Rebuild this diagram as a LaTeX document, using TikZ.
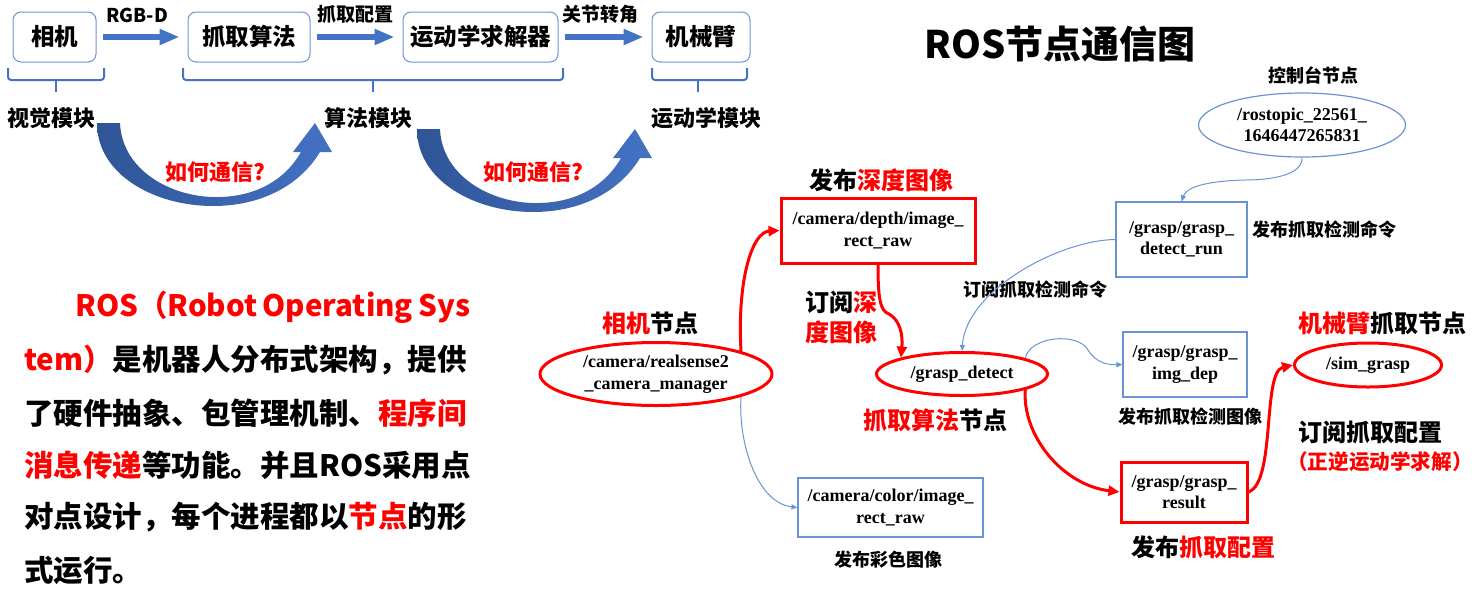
\documentclass[tikz,border=0pt]{standalone}
\usepackage{fontspec}
\setmainfont{Noto Sans CJK SC}
\newfontfamily\topicfont{Liberation Serif}
\usetikzlibrary{positioning,arrows.meta,shapes.geometric}

\definecolor{flowblue}{HTML}{4472C4}
\definecolor{flowdark}{HTML}{2F5597}
\definecolor{edgeblue}{HTML}{6A93D4}
\definecolor{rosred}{HTML}{FF0000}

\newcommand\pxfont[1]{\fontsize{#1}{#1}\selectfont\bfseries}

\begin{document}
\begin{tikzpicture}[x=1pt,y=-1pt,
    flowbox/.style={rectangle,rounded corners=8pt,draw=edgeblue,line width=1pt,minimum height=50pt,inner sep=0pt,font=\pxfont{23.5}},
    flowarrow/.style={flowblue,line width=6pt,-{Triangle[length=20pt,width=15pt]},shorten <=6pt,shorten >=8pt},
    bracket/.style={flowblue,line width=2pt,rounded corners=3pt},
    modlabel/.style={inner sep=0pt,font=\pxfont{22}},
    msglabel/.style={inner sep=0pt,font=\pxfont{19}},
    asklabel/.style={inner sep=0pt,font=\pxfont{22},text=rosred},
    bodyline/.style={anchor=west,inner sep=0pt,font=\pxfont{29.5}},
    topicbox/.style={rectangle,draw=edgeblue,line width=1.2pt,inner sep=0pt,align=center,font=\topicfont\fontsize{18}{21.5}\selectfont\bfseries},
    hotbox/.style={topicbox,draw=rosred,line width=3pt},
    rosnode/.style={ellipse,draw=edgeblue,line width=1.2pt,inner sep=0pt,align=center,font=\topicfont\fontsize{18}{21.5}\selectfont\bfseries},
    hotnode/.style={rosnode,draw=rosred,line width=3pt},
    bignote/.style={inner sep=0pt,font=\pxfont{24}},
    smallnote/.style={inner sep=0pt,font=\pxfont{18}},
    pubedge/.style={edgeblue,line width=1pt,-{Triangle[length=6pt,width=5pt]}},
    hotedge/.style={rosred,line width=3pt,-{Triangle[length=11pt,width=10pt]}}]

\useasboundingbox (0,0) rectangle (1477,603);

% module pipeline
\node[flowbox,minimum width=83pt] (camera) at (54.5,37) {相机};
\node[flowbox,minimum width=122pt] (grasp) at (249,37) {抓取算法};
\node[flowbox,minimum width=155pt] (solver) at (480.5,37) {运动学求解器};
\node[flowbox,minimum width=98pt] (arm) at (701,37) {机械臂};

\draw[flowarrow] (camera) -- (grasp);
\draw[flowarrow] (grasp) -- (solver);
\draw[flowarrow] (solver) -- (arm);

\node[msglabel] (rgbd) at (137,15) {RGB-D};
\node[msglabel] (pose) at (355,14) {抓取配置};
\node[msglabel] (joint) at (600,14) {关节转角};

\draw[bracket] (8,68) -- (8,80) -- (104,80) -- (104,68);
\draw[bracket] (56,80) -- (56,92);
\draw[bracket] (183,68) -- (183,80) -- (563,80) -- (563,68);
\draw[bracket] (373,80) -- (373,92);
\draw[bracket] (652,68) -- (652,80) -- (747,80) -- (747,68);
\draw[bracket] (698,80) -- (698,92);

\node[modlabel] (vision) at (51,118) {视觉模块};
\node[modlabel] (algo) at (368,118) {算法模块};
\node[modlabel] (kine) at (706,118) {运动学模块};

% how do they talk
\foreach \dx/\dy in {0/0,320/6}{
  \begin{scope}[shift={(\dx,\dy)}]
    \shade[left color=flowdark,right color=flowblue]
      (97,123) -- (120,123)
      .. controls (122,170) and (170,196) .. (213,197)
      .. controls (255,198) and (285,180) .. (301,152)
      -- (293,152) -- (315,123) -- (332,152) -- (320,152)
      .. controls (300,185) and (262,206) .. (213,206)
      .. controls (155,206) and (97,175) .. (97,123) -- cycle;
  \end{scope}
}
\node[asklabel] (ask1) at (215,172) {如何通信?};
\node[asklabel] (ask2) at (533,172) {如何通信?};

% text
\node[bodyline] (body1) at (75,307) {\makebox[395pt][s]{\textcolor{rosred}{ROS（Robot Operating Sys}}};
\node[bodyline] (body2) at (24,360) {\textcolor{rosred}{tem）}是机器人分布式架构，提供};
\node[bodyline] (body3) at (24,413) {了硬件抽象、包管理机制、\textcolor{rosred}{程序间}};
\node[bodyline] (body4) at (24,465) {\textcolor{rosred}{消息传递}等功能。并且ROS采用点};
\node[bodyline] (body5) at (24,517) {对点设计，每个进程都以\textcolor{rosred}{节点}的形};
\node[bodyline] (body6) at (24,570) {式运行。};

% ros graph
\node[inner sep=0pt,font=\pxfont{38}] (title) at (1060,44) {ROS节点通信图};

\node[rosnode,minimum width=207pt,minimum height=64pt] (console) at (1302,125) {/rostopic\_22561\_\\1646447265831};
\node[smallnote] (consolenote) at (1313,75) {控制台节点};
\node[topicbox,minimum width=131pt,minimum height=75pt] (detectrun) at (1181.5,239.5) {/grasp/grasp\_\\detect\_run};
\node[smallnote,anchor=west] (runpub) at (1252,230) {发布抓取检测命令};
\node[smallnote] (runsub) at (1035,290) {订阅抓取检测命令};

\node[hotnode,minimum width=232pt,minimum height=63pt] (camnode) at (656,374) {/camera/realsense2\\\_camera\_manager};
\node[bignote] (camnote) at (650,323) {\textcolor{rosred}{相机}节点};
\node[hotbox,minimum width=194pt,minimum height=65pt] (depth) at (878,230.5) {/camera/depth/image\_\\rect\_raw};
\node[bignote] (depthpub) at (881,180) {发布\textcolor{rosred}{深度图像}};
\node[inner sep=0pt,align=left,anchor=west,font=\fontsize{24}{30}\selectfont\bfseries] (depthsub) at (805,317) {订阅\textcolor{rosred}{深}\\\textcolor{rosred}{度图像}};

\node[hotnode,minimum width=171pt,minimum height=43pt] (detect) at (962,374) {/grasp\_detect};
\node[bignote] (detectnote) at (935,420) {\textcolor{rosred}{抓取算法}节点};
\node[topicbox,minimum width=185pt,minimum height=59pt] (color) at (890.5,507.5) {/camera/color/image\_\\rect\_raw};
\node[smallnote] (colorpub) at (888,560) {发布彩色图像};
\node[topicbox,minimum width=124pt,minimum height=65pt] (imgdep) at (1185,364.5) {/grasp/grasp\_\\img\_dep};
\node[smallnote] (imgdeppub) at (1190,417) {发布抓取检测图像};
\node[hotbox,minimum width=126pt,minimum height=60pt] (result) at (1184,492) {/grasp/grasp\_\\result};
\node[bignote] (resultpub) at (1203,547) {发布\textcolor{rosred}{抓取配置}};
\node[hotnode,minimum width=147pt,minimum height=44pt] (simgrasp) at (1368,365) {/sim\_grasp};
\node[bignote] (simnote) at (1382,323) {\textcolor{rosred}{机械臂}抓取节点};
\node[bignote] (simsub) at (1370,432) {订阅抓取配置};
\node[inner sep=0pt,font=\pxfont{20.6},text=rosred] (simsub2) at (1380,462) {（正逆运动学求解）};

\coordinate (cw) at (1245,180);
\draw[pubedge] (console.south) .. controls (1303,176) and (1268,180) .. (cw)
  .. controls (1210,181) and (1187,186) .. (detectrun.north);
\draw[pubedge] (detectrun.west) .. controls (1060,240) and (966,290) .. (detect.north);
\draw[hotedge] (camnode.15) .. controls (737,280) and (752,232) .. (depth.west);
\draw[hotedge] (depth.south) .. controls (878,298) and (880,311) .. (889,314)
  .. controls (900,320) and (903,335) .. (detect.165);
\draw[pubedge] (camnode.-15) .. controls (738,445) and (758,503) .. (color.west);
\draw[pubedge] (detect.14) .. controls (1030,336) and (1078,332) .. (1088,350)
  .. controls (1096,363) and (1108,365) .. (imgdep.west);
\draw[hotedge] (detect.-14) .. controls (1022,435) and (1062,485) .. (result.west);
\draw[hotedge] (result.east) .. controls (1276,482) and (1262,372) .. (simgrasp.west);

\end{tikzpicture}
\end{document}
